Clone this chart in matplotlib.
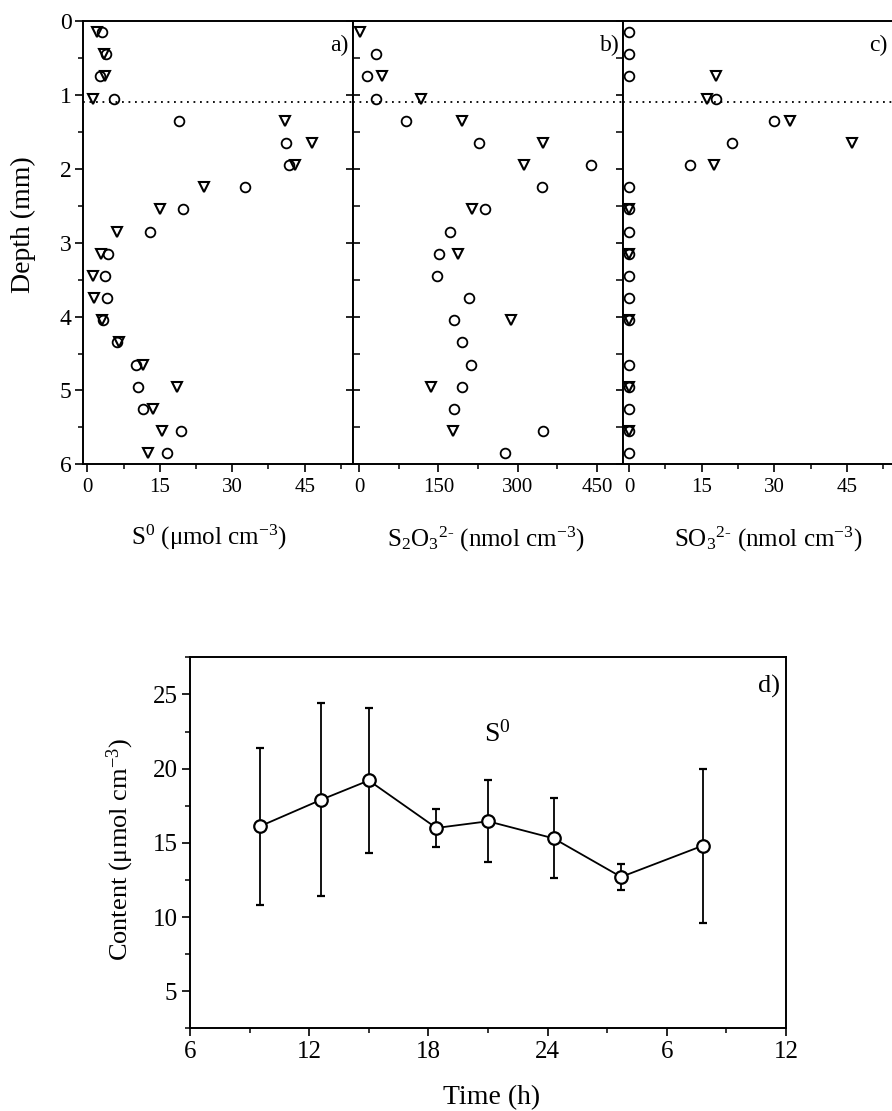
import numpy as np
import matplotlib
matplotlib.use("Agg")
import matplotlib.pyplot as plt
from matplotlib.ticker import MultipleLocator, FixedLocator

plt.rcParams['font.family'] = ['Liberation Serif', 'DejaVu Serif']
plt.rcParams['mathtext.fontset'] = 'custom'
plt.rcParams['mathtext.rm'] = 'Liberation Serif'
plt.rcParams['mathtext.it'] = 'Liberation Serif:italic'
plt.rcParams['mathtext.bf'] = 'Liberation Serif:bold'

# ---------------- data ----------------
depth = [0.15, 0.45, 0.75, 1.05, 1.35, 1.65, 1.95, 2.25, 2.55, 2.85,
         3.15, 3.45, 3.75, 4.05, 4.35, 4.65, 4.95, 5.25, 5.55, 5.85]

s0_circle = [3.0, 3.9, 2.6, 5.6, 19.0, 41.1, 41.8, 32.6, 19.8, 13.0,
             4.2, 3.7, 4.0, 3.2, 6.1, 10.0, 10.6, 11.6, 19.5, 16.6]
s0_triangle = [2.1, 3.5, 3.7, 1.2, 41.0, 46.5, 43.0, 24.2, 15.0, 6.2,
               2.8, 1.2, 1.4, 3.0, 6.6, 11.5, 18.5, 13.5, 15.5, 12.6]

s2o3_circle = [np.nan, 31.5, 15.8, 31.5, 88.8, 226.8, 438.0, 345.0, 238.8, 172.0,
               151.0, 148.0, 208.0, 180.0, 195.0, 211.7, 195.0, 180.0, 348.5, 276.0]
depth_tri_b = [0.15, 0.75, 1.05, 1.35, 1.65, 1.95, 2.55, 3.15, 4.05, 4.95, 5.55]
s2o3_triangle = [2.0, 42.8, 117.0, 194.0, 347.0, 311.0, 213.0, 186.5, 286.7, 136.0, 177.0]

so3_circle = [0.0, 0.0, 0.0, 17.9, 30.0, 21.3, 12.6, 0.0, 0.0, 0.0,
              0.0, 0.0, 0.0, 0.0, np.nan, 0.0, 0.0, 0.0, 0.0, 0.0]
depth_tri_c = [0.75, 1.05, 1.35, 1.65, 1.95, 2.55, 3.15, 4.05, 4.95, 5.55]
so3_triangle = [17.9, 16.0, 33.3, 46.1, 17.5, 0.0, 0.0, 0.0, 0.0, 0.0]

chemocline_depth = 1.1

time_h = [9.5, 12.6, 15.0, 18.4, 21.0, 24.3, 27.7, 31.8]
content = [16.1, 17.9, 19.2, 16.0, 16.45, 15.3, 12.7, 14.8]
content_hi = [21.4, 24.4, 24.1, 17.3, 19.2, 18.0, 13.55, 20.0]
content_lo = [10.8, 11.4, 14.3, 14.7, 13.7, 12.6, 11.8, 9.6]
time_ticks = [6, 12, 18, 24, 30, 36]
time_ticklabels = ['6', '12', '18', '24', '6', '12']

# ---------------- figure ----------------
W, H = 892, 1111
fig = plt.figure(figsize=(W / 100, H / 100), dpi=100)

def frac_box(x0, x1, y_top, y_bot):
    return [x0 / W, 1 - y_bot / H, (x1 - x0) / W, (y_bot - y_top) / H]

top, bot = 21, 464.4
axa = fig.add_axes(frac_box(82.7, 353.0, top, bot))
axb = fig.add_axes(frac_box(353.0, 623.3, top, bot))
axc = fig.add_axes(frac_box(623.3, 892.0, top, bot))

LW = 1.4
mk = dict(linestyle='none', markerfacecolor='none', markeredgecolor='black')

panels = [
    (axa, depth, s0_circle, depth, s0_triangle, (-0.95, 55.0), 15, 7.5, 'a)'),
    (axb, depth, s2o3_circle, depth_tri_b, s2o3_triangle, (-11.3, 499.6), 150, 75, 'b)'),
    (axc, depth, so3_circle, depth_tri_c, so3_triangle, (-1.18, 54.3), 15, 7.5, 'c)'),
]

for ax, dc, vc, dt, vt, xl, maj, mnr, lab in panels:
    ax.plot(vc, dc, marker='o', markersize=7, markeredgewidth=1.3, **mk)
    ax.plot(vt, dt, marker='v', markersize=7.5, markeredgewidth=1.5, **mk)
    ax.axhline(chemocline_depth, color='black', lw=1.3, dashes=(1, 2.6))
    ax.set_xlim(*xl)
    ax.set_ylim(6, 0)
    ax.xaxis.set_major_locator(MultipleLocator(maj))
    ax.xaxis.set_minor_locator(MultipleLocator(mnr))
    ax.yaxis.set_major_locator(MultipleLocator(1))
    ax.yaxis.set_minor_locator(MultipleLocator(0.5))
    for s in ax.spines.values():
        s.set_linewidth(LW)
    ax.tick_params(axis='x', which='major', direction='out', length=6, width=1.2,
                   labelsize=15, pad=4, top=False)
    ax.tick_params(axis='x', which='minor', direction='out', length=3.5, width=1.1, top=False)
    ax.text(0.985, 0.944, lab, transform=ax.transAxes, ha='right', va='center', fontsize=17)

axc.spines['right'].set_visible(False)

# y ticks
axa.tick_params(axis='y', which='major', direction='out', length=6, width=1.2,
                labelsize=17, pad=2, left=True, right=False)
axa.tick_params(axis='y', which='minor', direction='out', length=3.5, width=1.1,
                left=True, right=False)
axb.tick_params(axis='y', which='major', direction='inout', length=10, width=1.2,
                left=True, right=True, labelleft=False)
axb.tick_params(axis='y', which='minor', direction='in', length=5, width=1.1,
                left=True, right=True)
axc.tick_params(axis='y', which='both', left=False, right=False, labelleft=False)

fig.text(23 / W, 1 - 225 / H, 'Depth (mm)', rotation=90, ha='center', va='center', fontsize=20)
fig.text(209 / W, 1 - 537 / H, r'S$^0$ ($\mathrm{\mu}$mol cm$^{-3}$)', ha='center', va='center', fontsize=18)
fig.text(486 / W, 1 - 539 / H, r'S$_2$O$_3$$^{2\text{-}}$ (nmol cm$^{-3}$)', ha='center', va='center', fontsize=18)
fig.text(768 / W, 1 - 539 / H, r'SO$_3$$^{2\text{-}}$ (nmol cm$^{-3}$)', ha='center', va='center', fontsize=18)

# ---------------- panel d ----------------
axd = fig.add_axes(frac_box(190, 786, 657.3, 1028.3))
yerr = [np.array(content) - np.array(content_lo), np.array(content_hi) - np.array(content)]
axd.errorbar(time_h, content, yerr=yerr, color='black', lw=1.3, elinewidth=1.3,
             capsize=3, capthick=1.3, marker='o', markersize=9,
             markerfacecolor='white', markeredgecolor='black', markeredgewidth=1.6)
axd.set_xlim(6, 36)
axd.set_ylim(2.5, 27.5)
axd.xaxis.set_major_locator(FixedLocator(time_ticks))
axd.set_xticklabels(time_ticklabels)
axd.xaxis.set_minor_locator(MultipleLocator(3))
axd.yaxis.set_major_locator(MultipleLocator(5))
axd.yaxis.set_minor_locator(MultipleLocator(2.5))
axd.set_yticks([5, 10, 15, 20, 25])
for s in axd.spines.values():
    s.set_linewidth(LW)
axd.tick_params(axis='both', which='major', direction='out', length=6, width=1.2,
                labelsize=18, pad=3)
axd.tick_params(axis='both', which='minor', direction='out', length=3.5, width=1.1)
axd.text(0.99, 0.922, 'd)', transform=axd.transAxes, ha='right', va='center', fontsize=19)
axd.text(21.45, 22.3, r'S$^0$', ha='center', va='center', fontsize=20)

fig.text(120 / W, 1 - 850 / H, r'Content ($\mathrm{\mu}$mol cm$^{-3}$)', rotation=90,
         ha='center', va='center', fontsize=19)
fig.text(492 / W, 1 - 1098 / H, 'Time (h)', ha='center', va='center', fontsize=20)

fig.savefig('out.png', dpi=100)
